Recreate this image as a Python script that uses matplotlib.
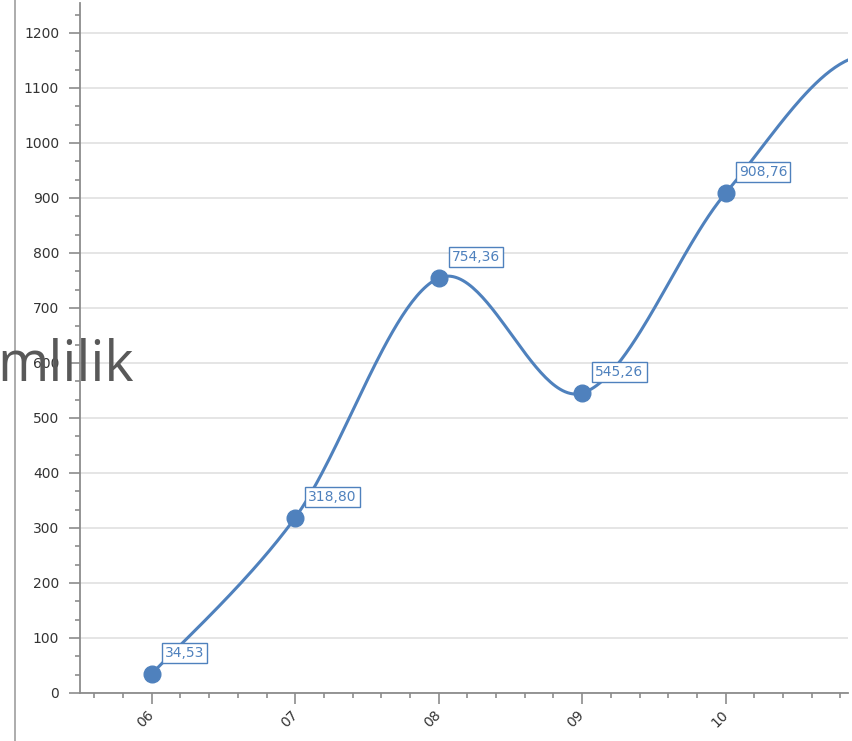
#!/usr/bin/env python3
import numpy as np
from matplotlib import pyplot as plt
from matplotlib.lines import Line2D
from matplotlib.ticker import MultipleLocator

# visible months plus two beyond the right edge (the curve runs off the chart)
months = ['06', '07', '08', '09', '10', '11', '12']
values = [34.53, 318.80, 754.36, 545.26, 908.76, 1160.0, 910.0]
n_visible = 5

line_color = '#4f81bd'
text_color = '#333333'


def smooth_curve(xs, ys, steps=60):
    # catmull-rom style smoothing, like the office "smoothed line"
    xs = np.asarray(xs, float)
    ys = np.asarray(ys, float)
    px = np.concatenate([[xs[0]], xs, [xs[-1]]])
    py = np.concatenate([[ys[0]], ys, [ys[-1]]])
    out_x, out_y = [], []
    t = np.linspace(0, 1, steps)
    h00 = 2 * t**3 - 3 * t**2 + 1
    h10 = t**3 - 2 * t**2 + t
    h01 = -2 * t**3 + 3 * t**2
    h11 = t**3 - t**2
    for i in range(1, len(px) - 2):
        mx0 = (px[i + 1] - px[i - 1]) / 2
        mx1 = (px[i + 2] - px[i]) / 2
        my0 = (py[i + 1] - py[i - 1]) / 2
        my1 = (py[i + 2] - py[i]) / 2
        out_x.extend(h00 * px[i] + h10 * mx0 + h01 * px[i + 1] + h11 * mx1)
        out_y.extend(h00 * py[i] + h10 * my0 + h01 * py[i + 1] + h11 * my1)
    return out_x, out_y


fig = plt.figure(figsize=(8.52, 7.41), dpi=100)
ax = fig.add_axes([80 / 852, 48 / 741, 768 / 852, 690 / 741])

x = list(range(len(months)))
cx, cy = smooth_curve(x, values)
ax.plot(cx, cy, color=line_color, lw=2.2, zorder=3, solid_capstyle='round')
ax.plot(x, values, 'o', color=line_color, ms=12, zorder=4)

for i in range(n_visible):
    lbl = f'{values[i]:.2f}'.replace('.', ',')
    ax.annotate(lbl, (x[i], values[i]), xytext=(9.5, 10), textcoords='offset points',
                ha='left', va='bottom', fontsize=10, color=line_color, zorder=5,
                bbox=dict(boxstyle='square,pad=0.22', fc='white', ec=line_color, lw=1))

ax.set_xticks(x)
ax.set_xticklabels(months)
ax.xaxis.set_minor_locator(MultipleLocator(0.2))
ax.yaxis.set_major_locator(MultipleLocator(100))
ax.yaxis.set_minor_locator(MultipleLocator(100 / 3))
ax.set_xlim(-0.5, 4.853)
ax.set_ylim(0, 1254.5)

for lab in ax.get_xticklabels():
    lab.set_rotation(45)
    lab.set_ha('right')
    lab.set_va('center')
    lab.set_rotation_mode('anchor')

ax.tick_params(axis='both', which='major', length=8, width=1.2, color='#8c8c8c',
               labelsize=10, labelcolor=text_color)
ax.tick_params(axis='both', which='minor', length=3.5, width=1.2, color='#8c8c8c')
ax.tick_params(axis='y', which='major', pad=7)
ax.tick_params(axis='x', which='major', pad=6)

ax.grid(axis='y', which='major', color='#e0e0e0', lw=1.2)
ax.set_axisbelow(True)
for side in ['top', 'right']:
    ax.spines[side].set_visible(False)
for side in ['left', 'bottom']:
    ax.spines[side].set_color('#8c8c8c')
    ax.spines[side].set_linewidth(1.3)

# outer frame line at the far left
fig.add_artist(Line2D([15 / 852, 15 / 852], [0, 1], color='#a6a6a6', lw=1.3))

# clipped title text overlapping the y axis
fig.text(-3 / 852, (741 - 381) / 741, 'mlilik', fontsize=40, color='#595959',
         family=['Open Sans', 'DejaVu Sans'], ha='left', va='baseline')

plt.savefig('out.png', dpi=100)
